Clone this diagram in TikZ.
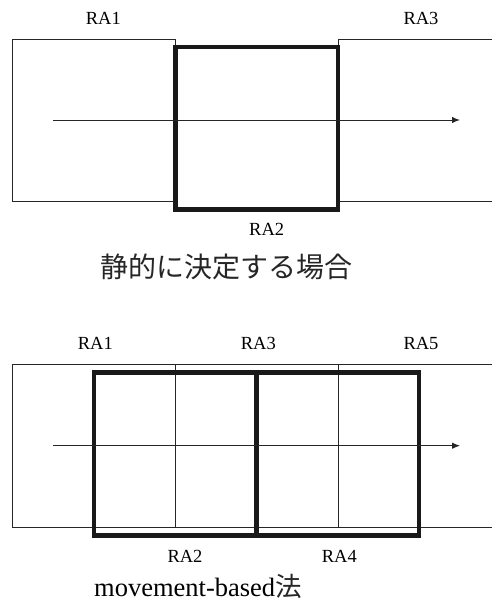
\documentclass[tikz,border=0pt]{standalone}
\usepackage{fontspec}
\setmainfont{Liberation Serif}
\newfontfamily\jpfont{Noto Sans CJK JP}
\usetikzlibrary{arrows.meta}
\begin{document}
\begin{tikzpicture}[x=1pt,y=-1pt,
  thinline/.style={draw=black!85,line width=1pt},
  thickline/.style={draw=black!90,line width=4.7pt},
  flow/.style={draw=black!85,line width=1pt,-{Latex[length=8pt,width=6.5pt]}},
  ralabel/.style={font=\fontsize{18.5}{20}\selectfont,inner sep=0pt},
  caption/.style={inner sep=0pt}]
\useasboundingbox (0,0) rectangle (491,605);
% ---------- top: static ----------
\draw[thinline] (12.3,39.3) rectangle (175,201.7);
\draw[thinline] (495,39.3) -- (338,39.3) -- (338,201.7) -- (495,201.7);
\draw[thickline] (175.5,47) rectangle (338,209.5);
\coordinate (a1s) at (53,120);
\coordinate (a1e) at (460,120);
\draw[flow] (a1s) -- (a1e);
\node[ralabel] (t1) at (103.3,18.3) {RA1};
\node[ralabel] (t3) at (421,18.3) {RA3};
\node[ralabel] (t2) at (266.7,229.3) {RA2};
\node[caption,font=\jpfont\fontsize{28}{30}\selectfont,text=black!85] (cap1) at (226,266.5) {静的に決定する場合};
% ---------- bottom: movement-based ----------
\draw[thinline] (495,364.3) -- (12.3,364.3) -- (12.3,527.3) -- (495,527.3);
\draw[thinline] (175,364.3) -- (175,527.3);
\draw[thinline] (338,364.3) -- (338,527.3);
\draw[thickline] (94,372.7) rectangle (256.7,535.7);
\draw[thickline] (256.7,372.7) rectangle (419,535.7);
\coordinate (a2s) at (53,445.7);
\coordinate (a2e) at (460,445.7);
\draw[flow] (a2s) -- (a2e);
\node[ralabel] (b1) at (95.3,343.3) {RA1};
\node[ralabel] (b3) at (258.3,343.3) {RA3};
\node[ralabel] (b5) at (421,343.3) {RA5};
\node[ralabel] (b2) at (185,556) {RA2};
\node[ralabel] (b4) at (339.3,556) {RA4};
\node[caption,anchor=base west,font=\fontsize{26.5}{28}\selectfont] (cap2) at (94,596.5) {movement-based{\jpfont\color{black!85}法}};
\end{tikzpicture}
\end{document}
